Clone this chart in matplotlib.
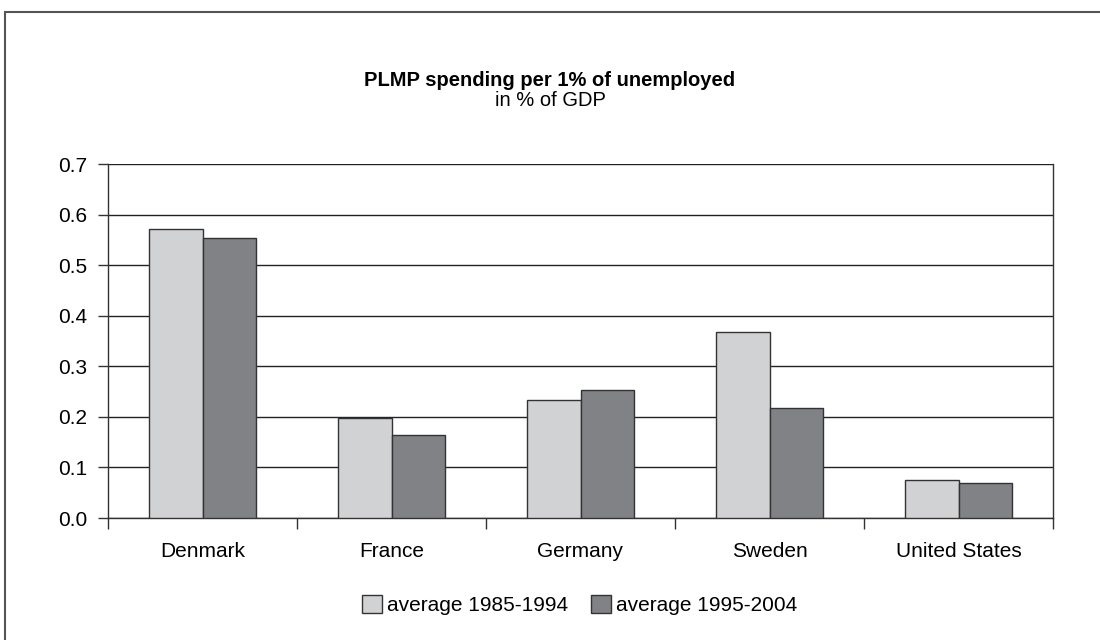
import numpy as np
import matplotlib.pyplot as plt
from matplotlib.patches import Rectangle

plt.rcParams['font.family'] = ['Liberation Sans', 'DejaVu Sans']

# PLMP spending per 1% of unemployed, in % of GDP
paises = ['Denmark', 'France', 'Germany', 'Sweden', 'United States']
prom_1985_1994 = [0.571, 0.198, 0.233, 0.368, 0.075]
prom_1995_2004 = [0.554, 0.165, 0.253, 0.217, 0.070]
series = ['average 1985-1994', 'average 1995-2004']

fig = plt.figure(figsize=(11, 6.4), dpi=100)
ax = fig.add_axes([108 / 1100, 1 - 518 / 640, 945 / 1100, 354 / 640])

# marco exterior
fig.patches.append(Rectangle((5 / 1100, -0.1), 1.2, 1 - 12 / 640 + 0.1,
                             transform=fig.transFigure, fill=False,
                             edgecolor='#555555', linewidth=1.5))

x = np.arange(len(paises))
ancho = 0.285
ax.bar(x - ancho / 2, prom_1985_1994, ancho, color='#d1d2d4',
       edgecolor='#333333', linewidth=1, label=series[0], zorder=3)
ax.bar(x + ancho / 2, prom_1995_2004, ancho, color='#808285',
       edgecolor='#333333', linewidth=1, label=series[1], zorder=3)

ax.set_xlim(-0.5, len(paises) - 0.5)
ax.set_ylim(0, 0.7)
ax.set_yticks(np.arange(0, 0.71, 0.1))
ax.set_yticklabels([f'{v:.1f}' for v in np.arange(0, 0.71, 0.1)], fontsize=15)
ax.set_xticks(x)
ax.set_xticklabels(paises, fontsize=15)
ax.tick_params(axis='x', length=0, pad=17)
ax.set_xticks(np.arange(-0.5, len(paises)), minor=True)
ax.tick_params(axis='x', which='minor', length=8, width=1, color='#333333')
ax.tick_params(axis='y', length=7, width=1, color='#333333', pad=8)

ax.grid(axis='y', color='#222222', linewidth=1, zorder=0)
ax.spines['top'].set_visible(False)
for lado in ['left', 'bottom', 'right']:
    ax.spines[lado].set_color('#333333')
    ax.spines[lado].set_linewidth(1)

fig.text(0.5, 1 - 80 / 640, 'PLMP spending per 1% of unemployed', ha='center',
         va='center', fontsize=14.5, fontweight='bold')
fig.text(0.5, 1 - 101 / 640, 'in % of GDP', ha='center', va='center', fontsize=14.5)

fig.legend(loc='center', bbox_to_anchor=(580 / 1100, 1 - 605 / 640), ncol=2,
           frameon=False, fontsize=15, handlelength=0.95, handleheight=0.95,
           handletextpad=0.25, columnspacing=1.1)

fig.savefig('out.png', dpi=100)
